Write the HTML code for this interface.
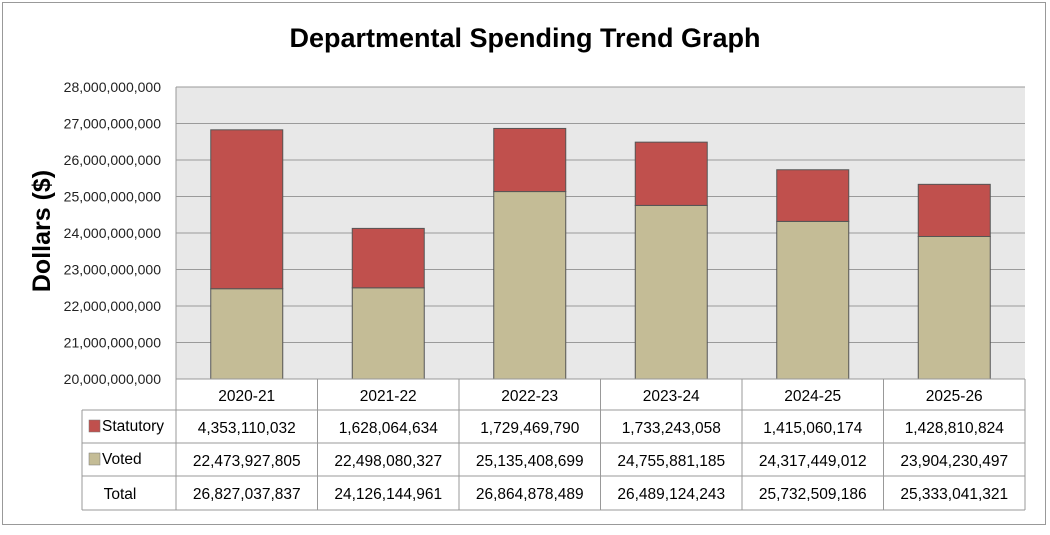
<!DOCTYPE html>
<html><head><meta charset="utf-8"><style>
body{margin:0;background:#fff;font-family:"Liberation Sans",sans-serif}
svg text{font-family:"Liberation Sans",sans-serif}
</style></head><body>
<svg id="chart" width="1050" height="530" xmlns="http://www.w3.org/2000/svg">
<rect x="2.5" y="2.5" width="1043" height="522" fill="#fff" stroke="#999"/>
<text x="525" y="47" text-anchor="middle" font-size="27" font-weight="bold">Departmental Spending Trend Graph</text>
<text transform="translate(50,231) rotate(-90)" text-anchor="middle" font-size="25" font-weight="bold">Dollars ($)</text>
<g id="plot"></g>
</svg>
<script>
const categories=["2020-21","2021-22","2022-23","2023-24","2024-25","2025-26"];
const statutory=[4353110032,1628064634,1729469790,1733243058,1415060174,1428810824];
const voted=[22473927805,22498080327,25135408699,24755881185,24317449012,23904230497];
const totals=[26827037837,24126144961,26864878489,26489124243,25732509186,25333041321];
const yTicks=[20e9,21e9,22e9,23e9,24e9,25e9,26e9,27e9,28e9];
const NS="http://www.w3.org/2000/svg";
const X0=176,X1=1025,Y0=379,Y1=87,YMIN=20e9,YMAX=28e9;
const cw=(X1-X0)/categories.length;
const y=v=>Y0-(Math.max(v,YMIN)-YMIN)/(YMAX-YMIN)*(Y0-Y1);
const xc=i=>X0+cw*(i+0.5);
const fmt=v=>Math.round(v).toLocaleString('en-US');
const g=document.getElementById('plot');
function mk(t,a,txt){const e=document.createElementNS(NS,t);for(const k in a)e.setAttribute(k,a[k]);if(txt!=null)e.textContent=txt;g.appendChild(e);return e;}
let e=mk('rect',{x:X0,y:Y1,width:X1-X0,height:Y0-Y1,fill:'#e8e8e8'});


yTicks.forEach(t=>{
  if(t>YMIN){let l=mk('line',{x1:X0,x2:X1,y1:y(t),y2:y(t),stroke:'#9a9a9a','stroke-width':1});
  
  }
  let tx=mk('text',{x:161,y:y(t)+5,'text-anchor':'end','font-size':14,fill:'#222'},fmt(t));
  
  
});
mk('line',{x1:X0,x2:X0,y1:Y1,y2:Y0,stroke:'#999'});
const bw=72;
categories.forEach((c,i)=>{
  const xl=xc(i)-bw/2;
  let b=mk('rect',{x:xl,y:y(voted[i]),width:bw,height:Y0-y(voted[i]),fill:'#c4bc96',stroke:'#555','stroke-width':1});
  
  
  let s=mk('rect',{x:xl,y:y(voted[i]+statutory[i]),width:bw,height:y(voted[i])-y(voted[i]+statutory[i]),fill:'#c0504d',stroke:'#555','stroke-width':1});
  
  
});
const rows=[379,410,443,476,510];
const LX=82;
mk('line',{x1:X0,x2:X1,y1:rows[0],y2:rows[0],stroke:'#999'});
for(let r=1;r<rows.length;r++){mk('line',{x1:LX,x2:X1,y1:rows[r],y2:rows[r],stroke:'#999'});}
mk('line',{x1:LX,x2:LX,y1:rows[1],y2:rows[4],stroke:'#999'});
for(let i=0;i<=categories.length;i++){const x=X0+cw*i;mk('line',{x1:x,x2:x,y1:rows[0],y2:rows[4],stroke:'#999'});}
categories.forEach((c,i)=>{
  let t=mk('text',{x:xc(i),y:rows[0]+22,'text-anchor':'middle','font-size':15.5},c);
  
  
  [statutory,voted,totals].forEach((arr,r)=>{
    let v=mk('text',{x:xc(i),y:rows[r+1]+23,'text-anchor':'middle','font-size':15.5},fmt(arr[i]));
    
    
  });
});
const leg=[["Statutory","#c0504d"],["Voted","#c4bc96"]];
leg.forEach((l,r)=>{
  let k=mk('rect',{x:89,y:rows[r+1]+10,width:11,height:12,fill:l[1],stroke:'#777','stroke-width':0.5});
  
  
  let t=mk('text',{x:102,y:rows[r+1]+21,'font-size':15.5},l[0]);
  
  
});
let tt=mk('text',{x:120,y:rows[3]+23,'text-anchor':'middle','font-size':15.5},'Total');


</script>
</body></html>
